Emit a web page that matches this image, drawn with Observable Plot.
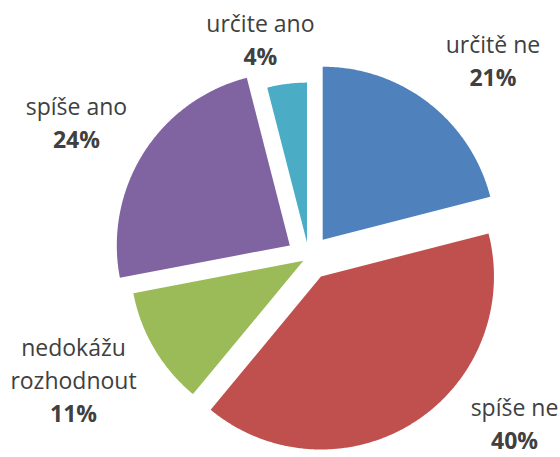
<!DOCTYPE html>
<html>
<head>
<meta charset="utf-8">
<script src="https://cdn.jsdelivr.net/npm/d3@7"></script>
<script src="https://cdn.jsdelivr.net/npm/@observablehq/plot@0.6"></script>
<style>
  html, body { margin: 0; padding: 0; background: #fff; }
  #chart svg { display: block; }
</style>
</head>
<body>
<div id="chart"></div>
<script>
// ---- data ----
const categories = ["určitě ne", "spíše ne", "nedokážu rozhodnout", "spíše ano", "určite ano"];
const values = [21, 40, 11, 24, 4];
const pctLabels = ["21%", "40%", "11%", "24%", "4%"];
const colors = ["#4F81BD", "#C0504D", "#9BBB59", "#8064A2", "#4BACC6"];

// ---- layout (sizes / styles) ----
const W = 560, H = 457;
const center = {x: 308.4, y: 257};
const radius = {"určitě ne": 173, "spíše ne": 173, "nedokážu rozhodnout": 173, "spíše ano": 173, "určite ano": 160};
const explode = {"určitě ne": 22.5, "spíše ne": 22.5, "nedokážu rozhodnout": 6.5, "spíše ano": 22.6, "určite ano": 15};
const labelRadius = 268;
const labelNudge = {
  "určitě ne": [19.8, 16.3],
  "spíše ne": [62, -58.5],
  "nedokážu rozhodnout": [-4.7, -11.8],
  "spíše ano": [-6.2, 10.2],
  "určite ano": [-14.9, 50]
};
const lineHeight = 33;
const fontSize = 23;
const textColor = "#404040";

// ---- build slice geometry through d3.pie ----
const arcs = d3.pie().sort(null).value(d => d)(values);
const slicePts = [];
const labelRows = [];
arcs.forEach((a, i) => {
  const key = categories[i];
  const R = radius[key];
  const mid = (a.startAngle + a.endAngle) / 2;
  const ox = explode[key] * Math.sin(mid), oy = -explode[key] * Math.cos(mid);
  slicePts.push({key, x: ox, y: oy});
  const n = Math.max(2, Math.ceil((a.endAngle - a.startAngle) * 180 / Math.PI * 2));
  for (let k = 0; k <= n; k++) {
    const t = a.startAngle + (a.endAngle - a.startAngle) * k / n;
    slicePts.push({key, x: ox + R * Math.sin(t), y: oy - R * Math.cos(t)});
  }
  slicePts.push({key, x: ox, y: oy});
  // label block
  const bx = labelRadius * Math.sin(mid) + labelNudge[key][0];
  const by = -labelRadius * Math.cos(mid) + labelNudge[key][1];
  const lines = key.length > 12 ? key.split(" ") : [key];
  const all = [...lines.map(t => ({t, bold: false})), {t: pctLabels[i], bold: true}];
  const L = all.length;
  all.forEach((ln, k) => {
    labelRows.push({x: bx, y: by + (k - (L - 1) / 2) * lineHeight, text: ln.t, bold: ln.bold});
  });
});

const chart = Plot.plot({
  width: W,
  height: H,
  margin: 0,
  style: {background: "#fff", overflow: "visible"},
  x: {domain: [-center.x, W - center.x], axis: null},
  y: {domain: [-center.y, H - center.y], reverse: true, axis: null},
  color: {domain: categories, range: colors},
  marks: [
    Plot.line(slicePts, {x: "x", y: "y", z: "key", fill: "key", stroke: "none", curve: "linear"}),
    Plot.text(labelRows.filter(d => !d.bold), {
      x: "x", y: "y", text: "text", fill: textColor,
      fontFamily: "Open Sans", fontSize, lineAnchor: "middle", textAnchor: "middle"
    }),
    Plot.text(labelRows.filter(d => d.bold), {
      x: "x", y: "y", text: "text", fill: textColor,
      fontFamily: "Open Sans", fontSize, fontWeight: "bold", lineAnchor: "middle", textAnchor: "middle"
    })
  ]
});
document.getElementById("chart").appendChild(chart);
</script>
</body>
</html>
